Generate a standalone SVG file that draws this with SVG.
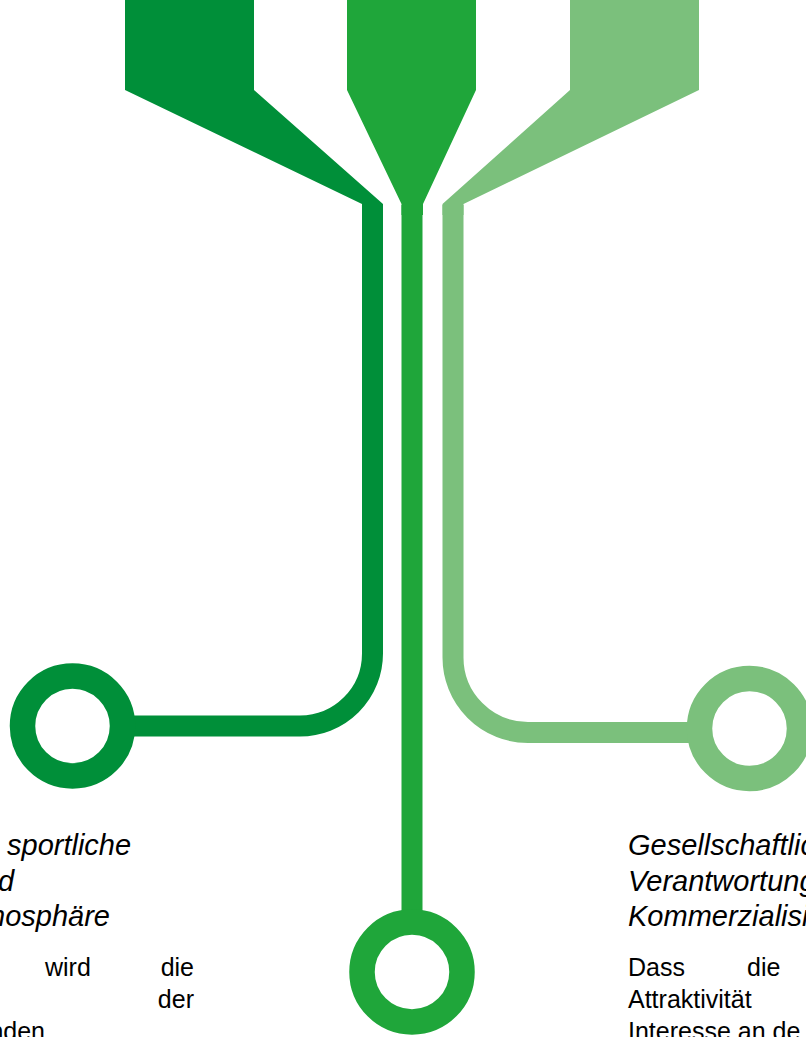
<svg xmlns="http://www.w3.org/2000/svg" width="806" height="1037" viewBox="0 0 806 1037">
<style>
.c1{fill:#008F39}
.c2{fill:#1FA63A}
.c3{fill:#7BC07C}
.ln{fill:none;stroke-width:21}
.ring{fill:#fff;stroke-width:25.5}
.h{font-family:"Liberation Sans",Arial,sans-serif;font-style:italic;font-size:29px;fill:#000}
.b{font-family:"Liberation Sans",Arial,sans-serif;font-size:25px;fill:#000}
</style>
<rect width="806" height="1037" fill="#fff"/>
<g id="funnel-left"><path class="c1" d="M125,-1 H254 V90 L383,204 V215 H362 V204 L125,90 Z"/></g>
<g id="funnel-middle"><path class="c2" d="M347,-1 H476 V90 L423,204 V215 H401.5 V204 L347,90 Z"/></g>
<g id="funnel-right"><path class="c3" d="M570,-1 H699 V90 L463.5,204 V215 H442.5 V204 L570,90 Z"/></g>
<g id="connectors">
<path class="ln" stroke="#008F39" d="M372.5,205 V653.5 A72.5,72.5 0 0 1 300,726 H120"/>
<path class="ln" stroke="#1FA63A" d="M412,205 V920"/>
<path class="ln" stroke="#7BC07C" d="M453,205 V657.5 A75,75 0 0 0 528,732.5 H700"/>
</g>
<g id="node-left"><circle class="ring" stroke="#008F39" cx="72.5" cy="726" r="50"/></g>
<g id="node-middle"><circle class="ring" stroke="#1FA63A" cx="412" cy="972" r="50"/></g>
<g id="node-right"><circle class="ring" stroke="#7BC07C" cx="749.5" cy="728.5" r="50"/></g>
<g id="text-left">
<text class="h" x="7" y="855">sportliche</text>
<text class="h" x="-2" y="890.5">d</text>
<text class="h" x="-19" y="926">mosphäre</text>
<text class="b" x="45" y="975.5">wird</text>
<text class="b" x="194" y="975.5" text-anchor="end">die</text>
<text class="b" x="194" y="1007.5" text-anchor="end">der</text>
<text class="b" x="45" y="1039.5" text-anchor="end">nden</text>
</g>
<g id="text-right">
<text class="h" x="628" y="855">Gesellschaftlic</text>
<text class="h" x="628" y="890.5">Verantwortung</text>
<text class="h" x="628" y="926">Kommerzialisi</text>
<text class="b" x="628" y="975.5">Dass</text>
<text class="b" x="747" y="975.5">die</text>
<text class="b" x="628" y="1007.5">Attraktivität</text>
<text class="b" x="628" y="1039.5">Interesse an de</text>
</g>
</svg>
